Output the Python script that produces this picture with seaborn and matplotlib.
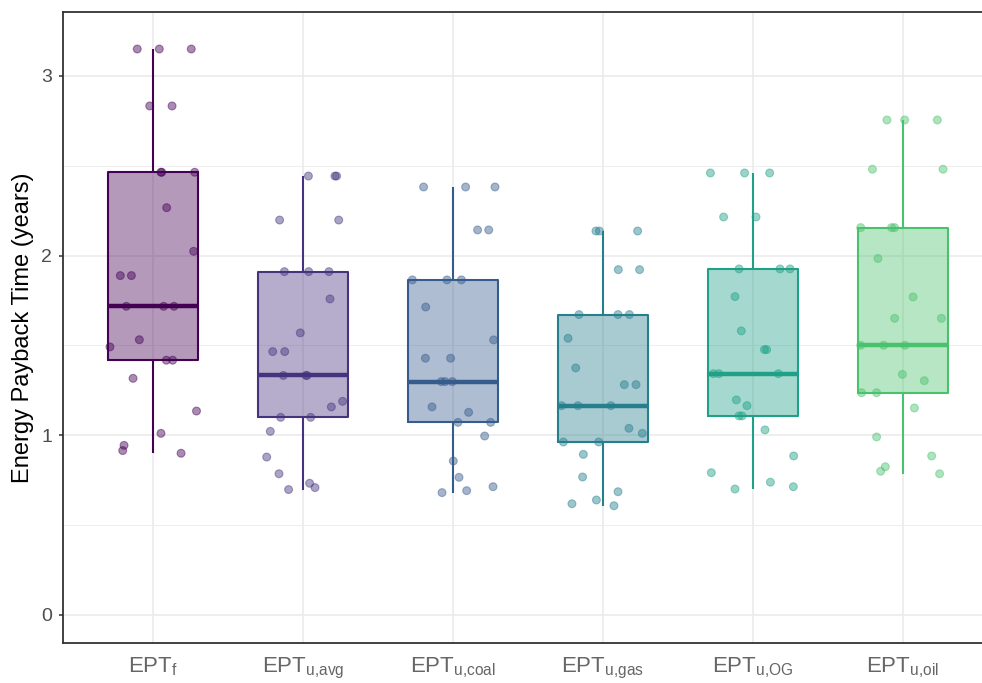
import matplotlib
matplotlib.use("Agg")
import matplotlib.pyplot as plt
import numpy as np
import pandas as pd
import seaborn as sns
from matplotlib.ticker import FixedLocator

sns.set_theme(style="white")
plt.rcParams["font.family"] = ["Liberation Sans", "DejaVu Sans"]
plt.rcParams["mathtext.default"] = "regular"

# Indicator subscripts and colours (viridis)
categories = ["f", "u,avg", "u,coal", "u,gas", "u,OG", "u,oil"]
colors = ["#440154", "#46337E", "#365C8D", "#277F8E", "#1FA187", "#4AC16D"]
tick_labels = [r"EPT$_{%s}$" % c.replace(",", "{,}") for c in categories]

# Energy payback time per scenario (years)
ept_f = [3.15, 3.15, 3.15, 2.833, 2.833, 2.464, 2.464, 2.464, 2.267, 2.024,
         1.889, 1.889, 1.718, 1.718, 1.718, 1.532, 1.492, 1.418, 1.418, 1.317,
         1.135, 1.011, 0.944, 0.915, 0.900]
ept_avg = [2.443, 2.443, 2.443, 2.198, 2.198, 1.911, 1.911, 1.911, 1.759, 1.570,
           1.466, 1.466, 1.333, 1.333, 1.333, 1.189, 1.158, 1.100, 1.100, 1.022,
           0.879, 0.786, 0.733, 0.709, 0.698]
ept_coal = [2.382, 2.382, 2.382, 2.143, 2.143, 1.865, 1.865, 1.865, 1.714, 1.531,
            1.429, 1.429, 1.299, 1.299, 1.299, 1.158, 1.128, 1.072, 1.072, 0.996,
            0.857, 0.766, 0.714, 0.692, 0.681]
ept_gas = [2.137, 2.137, 2.137, 1.922, 1.922, 1.672, 1.672, 1.672, 1.540, 1.375,
           1.282, 1.282, 1.165, 1.165, 1.165, 1.039, 1.011, 0.963, 0.963, 0.894,
           0.768, 0.686, 0.640, 0.619, 0.608]
ept_og = [2.460, 2.460, 2.460, 2.215, 2.215, 1.926, 1.926, 1.926, 1.772, 1.581,
          1.477, 1.477, 1.343, 1.343, 1.343, 1.197, 1.165, 1.108, 1.108, 1.030,
          0.885, 0.792, 0.739, 0.714, 0.701]
ept_oil = [2.755, 2.755, 2.755, 2.481, 2.481, 2.156, 2.156, 2.156, 1.984, 1.770,
           1.651, 1.651, 1.501, 1.501, 1.501, 1.339, 1.304, 1.237, 1.237, 1.152,
           0.991, 0.885, 0.825, 0.800, 0.786]

# Horizontal jitter of each point (fraction of a category slot)
jit_f = [-0.105, 0.042, 0.255, -0.022, 0.127, 0.053, 0.058, 0.278, 0.091, 0.271,
         -0.218, -0.144, -0.178, 0.071, 0.140, -0.091, -0.287, 0.089, 0.131, -0.133,
         0.290, 0.053, -0.193, -0.202, 0.187]
jit_avg = [0.036, 0.213, 0.224, -0.156, 0.238, -0.124, 0.038, 0.173, 0.180, -0.018,
           -0.202, -0.122, -0.131, 0.020, 0.027, 0.264, 0.189, -0.149, 0.051, -0.218,
           -0.242, -0.160, 0.044, 0.080, -0.096]
jit_coal = [-0.196, 0.084, 0.280, 0.164, 0.238, -0.271, -0.040, 0.056, -0.182, 0.271,
            -0.184, -0.016, -0.078, -0.053, -0.004, -0.140, 0.104, 0.033, 0.251, 0.211,
            0.002, 0.040, 0.267, 0.091, -0.073]
jit_gas = [-0.047, -0.024, 0.231, 0.102, 0.244, -0.160, 0.100, 0.176, -0.233, -0.182,
           0.142, 0.220, -0.276, -0.167, 0.053, 0.173, 0.262, -0.264, -0.029, -0.131,
           -0.136, 0.100, -0.044, -0.207, 0.073]
jit_og = [-0.284, -0.056, 0.111, -0.196, 0.020, -0.093, 0.180, 0.247, -0.120, -0.078,
          0.076, 0.091, -0.264, -0.227, 0.169, -0.111, -0.040, -0.093, -0.073, 0.080,
          0.271, -0.278, 0.116, 0.269, -0.120]
jit_oil = [-0.107, 0.011, 0.229, -0.204, 0.267, -0.282, -0.076, -0.056, -0.167, 0.067,
           -0.056, 0.256, -0.282, -0.129, 0.013, -0.004, 0.142, -0.276, -0.176, 0.076,
           -0.176, 0.191, -0.118, -0.149, 0.244]

series = [ept_f, ept_avg, ept_coal, ept_gas, ept_og, ept_oil]
jitters = [jit_f, jit_avg, jit_coal, jit_gas, jit_og, jit_oil]

rows = []
for i, (vals, jit) in enumerate(zip(series, jitters)):
    for v, j in zip(vals, jit):
        rows.append({"code": i, "name": categories[i], "value": v, "xj": i + j})
df = pd.DataFrame(rows)
palette = dict(zip(categories, colors))

fig = plt.figure(figsize=(9.82, 6.83), dpi=100)
ax = fig.add_axes([63 / 982, 40 / 683, 930 / 982, 631 / 683])

common = dict(data=df, x="code", y="value", hue="name", palette=palette,
              order=list(range(6)), hue_order=categories, dodge=False,
              width=0.6, showcaps=False, showfliers=False, legend=False, ax=ax)

# translucent box bodies
sns.boxplot(fill=True, saturation=1, linewidth=0,
            whiskerprops={"linewidth": 0}, medianprops={"linewidth": 0},
            **common)
for p in ax.patches:
    r, g, b, _ = p.get_facecolor()
    p.set_facecolor((r, g, b, 0.4))
    p.set_edgecolor("none")

# outlines, whiskers and medians in full colour
sns.boxplot(fill=False, linewidth=1.5, medianprops={"linewidth": 3.2}, **common)

sns.scatterplot(data=df, x="xj", y="value", hue="name", palette=palette,
                hue_order=categories, s=32, alpha=0.45, edgecolor="face",
                linewidth=0.8, legend=False, ax=ax, zorder=4)

ax.set_xlim(-0.6, 5.6)
ax.set_ylim(-0.156, 3.356)
ax.set_xticks(range(6))
ax.set_xticklabels(tick_labels)
ax.set_yticks([0, 1, 2, 3])
ax.set_yticklabels(["0", "1", "2", "3"])
ax.yaxis.set_minor_locator(FixedLocator([0.5, 1.5, 2.5]))

ax.set_axisbelow(True)
ax.grid(True, which="major", color="#EBEBEB", linewidth=1.2)
ax.grid(True, which="minor", axis="y", color="#EBEBEB", linewidth=0.6)

ax.tick_params(axis="y", which="major", length=3, width=1.1, color="#333333",
               labelsize=14, labelcolor="#4D4D4D", pad=5, left=True)
ax.tick_params(axis="y", which="minor", length=0)
ax.tick_params(axis="x", which="major", length=0, labelsize=16,
               labelcolor="#666666", pad=9)

for side in ["left", "bottom", "top", "right"]:
    ax.spines[side].set_visible(True)
    ax.spines[side].set_color("#333333")
    ax.spines[side].set_linewidth(1.3)

ax.set_xlabel("")
ax.set_ylabel("Energy Payback Time (years)", fontsize=17, color="black", labelpad=5)

fig.savefig("out.png", dpi=100)
